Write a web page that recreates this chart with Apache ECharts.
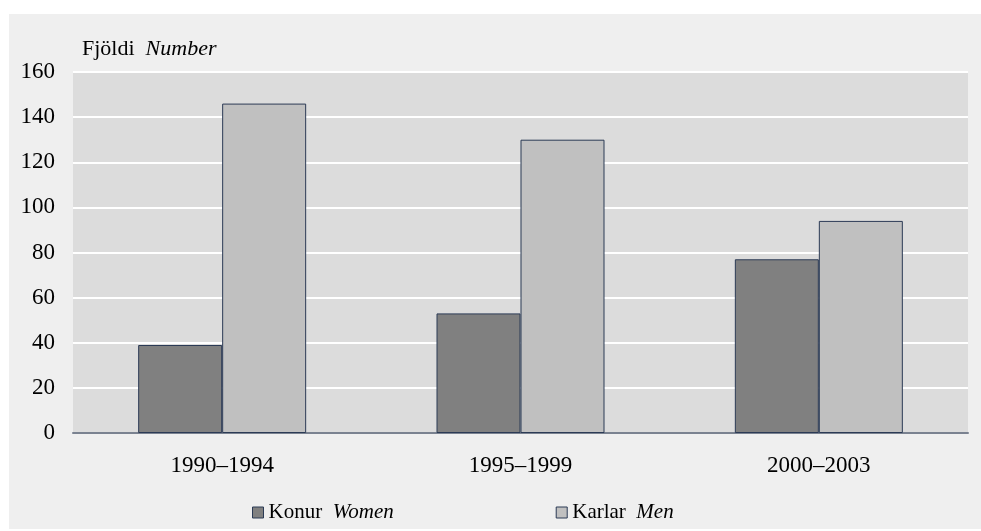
<!DOCTYPE html>
<html>
<head>
<meta charset="utf-8">
<script src="https://cdn.jsdelivr.net/npm/echarts@6/dist/echarts.min.js"></script>
<style>
  html, body { margin: 0; padding: 0; background: #ffffff; }
  #chart { width: 981px; height: 531px; }
</style>
</head>
<body>
<div id="chart"></div>
<script>
// periods on the x axis
const periods = ['1990\u20131994', '1995\u20131999', '2000\u20132003'];
// values
const women = [39, 53, 77];
const men = [146, 130, 94];
const yTicks = [0, 20, 40, 60, 80, 100, 120, 140, 160];

const FONT = '"Liberation Serif", "DejaVu Serif", serif';
const chart = echarts.init(document.getElementById('chart'));

const option = {
  backgroundColor: '#ffffff',
  animation: false,
  textStyle: { fontFamily: FONT, color: '#000' },
  graphic: [{
    type: 'rect',
    z: -10,
    shape: { x: 9, y: 14, width: 972, height: 515 },
    style: { fill: '#efefef' },
    silent: true
  }],
  grid: {
    left: 73, right: 13, top: 72, bottom: 98,
    show: true, backgroundColor: '#dcdcdc', borderWidth: 0
  },
  legend: {
    left: 252, top: 502, padding: 0,
    itemWidth: 11, itemHeight: 11, itemGap: 162,
    icon: 'rect',
    textStyle: {
      fontFamily: FONT, fontSize: 21, color: '#000',
      rich: { it: { fontFamily: FONT, fontSize: 21, fontStyle: 'italic' } }
    },
    formatter: name => name === 'women' ? 'Konur  {it|Women}' : 'Karlar  {it|Men}',
    data: [
      { name: 'women', itemStyle: { color: '#808080', borderColor: '#2b3a55', borderWidth: 1 } },
      { name: 'men', itemStyle: { color: '#c0c0c0', borderColor: '#2b3a55', borderWidth: 1 } }
    ]
  },
  xAxis: {
    type: 'category',
    data: periods,
    axisLine: { show: true, lineStyle: { color: '#7a8290', width: 2 } },
    axisTick: { show: false },
    axisLabel: { fontFamily: FONT, fontSize: 23, color: '#000', margin: 21 },
    splitLine: { show: false }
  },
  yAxis: {
    type: 'value',
    min: yTicks[0], max: yTicks[yTicks.length - 1], interval: 20,
    name: 'Fjöldi  {it|Number}',
    nameLocation: 'end',
    nameGap: 12,
    nameTextStyle: {
      fontFamily: FONT, fontSize: 22, color: '#000', align: 'left', padding: [0, 0, 0, 9],
      rich: { it: { fontFamily: FONT, fontSize: 22, fontStyle: 'italic' } }
    },
    axisLine: { show: false },
    axisTick: { show: false },
    axisLabel: { fontFamily: FONT, fontSize: 23, color: '#000', margin: 18 },
    splitLine: { show: true, lineStyle: { color: '#ffffff', width: 2 } }
  },
  series: [
    {
      name: 'women', type: 'bar', data: women,
      barWidth: 84, barGap: '0%',
      itemStyle: { color: '#808080', borderColor: '#2b3a55', borderWidth: 1 }
    },
    {
      name: 'men', type: 'bar', data: men,
      barWidth: 84,
      itemStyle: { color: '#c0c0c0', borderColor: '#2b3a55', borderWidth: 1 }
    }
  ]
};

chart.setOption(option);
</script>
</body>
</html>
